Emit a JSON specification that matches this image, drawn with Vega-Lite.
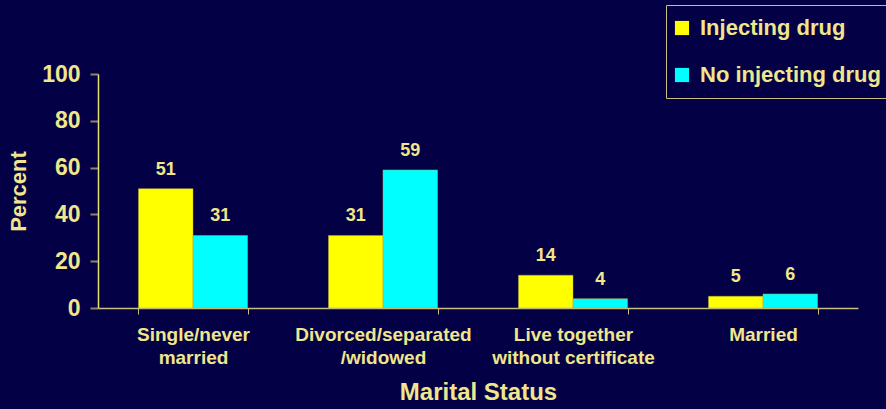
{
  "$schema": "https://vega.github.io/schema/vega-lite/v6.json",
  "width": 760,
  "height": 234,
  "autosize": {"type": "none"},
  "padding": {"left": 98, "top": 74, "right": 28, "bottom": 101},
  "background": "#030045",
  "config": {
    "view": {"stroke": null},
    "font": "Liberation Sans"
  },
  "data": {
    "values": [
      {"status": "Single/never|married", "group": "Injecting drug", "percent": 51},
      {"status": "Single/never|married", "group": "No injecting drug", "percent": 31},
      {"status": "Divorced/separated|/widowed", "group": "Injecting drug", "percent": 31},
      {"status": "Divorced/separated|/widowed", "group": "No injecting drug", "percent": 59},
      {"status": "Live together|without certificate", "group": "Injecting drug", "percent": 14},
      {"status": "Live together|without certificate", "group": "No injecting drug", "percent": 4},
      {"status": "Married", "group": "Injecting drug", "percent": 5},
      {"status": "Married", "group": "No injecting drug", "percent": 6}
    ]
  },
  "encoding": {
    "x": {
      "field": "status",
      "type": "nominal",
      "sort": null,
      "scale": {"paddingInner": 0.426, "paddingOuter": 0.213},
      "axis": {
        "title": "Marital Status",
        "titleFont": "Liberation Sans",
        "titleFontSize": 24,
        "titleFontWeight": "bold",
        "titleColor": "#F0E68C",
        "titlePadding": 13,
        "labelExpr": "split(datum.label, '|')",
        "labelAngle": 0,
        "labelFont": "Liberation Sans",
        "labelFontSize": 19,
        "labelFontWeight": "bold",
        "labelColor": "#F0E68C",
        "labelLineHeight": 23,
        "labelPadding": 11,
        "tickBand": "extent",
        "tickColor": "#C8C080",
        "tickSize": 6,
        "domainColor": "#C8C080",
        "domainWidth": 1.5
      }
    },
    "xOffset": {"field": "group", "type": "nominal", "sort": ["Injecting drug", "No injecting drug"]},
    "y": {
      "field": "percent",
      "type": "quantitative",
      "scale": {"domain": [0, 100], "nice": false},
      "axis": {
        "title": "Percent",
        "titleFont": "Liberation Sans",
        "titleFontSize": 22,
        "titleFontWeight": "bold",
        "titleColor": "#F0E68C",
        "titlePadding": 11,
        "values": [0, 20, 40, 60, 80, 100],
        "labelFont": "Liberation Sans",
        "labelFontSize": 23,
        "labelFontWeight": "bold",
        "labelColor": "#F0E68C",
        "labelPadding": 10,
        "tickColor": "#8A8670",
        "tickSize": 8,
        "tickWidth": 2,
        "domainColor": "#E8E070",
        "domainWidth": 1.5,
        "grid": false
      }
    }
  },
  "layer": [
    {
      "mark": {"type": "bar", "stroke": "#B0A840", "strokeWidth": 0.5},
      "encoding": {
        "color": {
          "field": "group",
          "type": "nominal",
          "scale": {"domain": ["Injecting drug", "No injecting drug"], "range": ["#FFFF00", "#00FFFF"]},
          "legend": {
            "title": null,
            "orient": "none",
            "legendX": 568,
            "legendY": -69,
            "direction": "vertical",
            "symbolType": "square",
            "symbolSize": 200,
            "symbolStrokeWidth": 0,
            "symbolOffset": -7,
            "labelFont": "Liberation Sans",
            "labelFontSize": 22,
            "labelFontWeight": "bold",
            "labelColor": "#F0E68C",
            "labelOffset": 7,
            "rowPadding": 25,
            "padding": 12,
            "strokeColor": "#C8C080",
            "labelLimit": 300
          }
        }
      }
    },
    {
      "mark": {
        "type": "text",
        "baseline": "bottom",
        "dy": -10,
        "font": "Liberation Sans",
        "fontSize": 18,
        "fontWeight": "bold",
        "color": "#F0E68C"
      },
      "encoding": {
        "text": {"field": "percent", "type": "quantitative"}
      }
    }
  ]
}
